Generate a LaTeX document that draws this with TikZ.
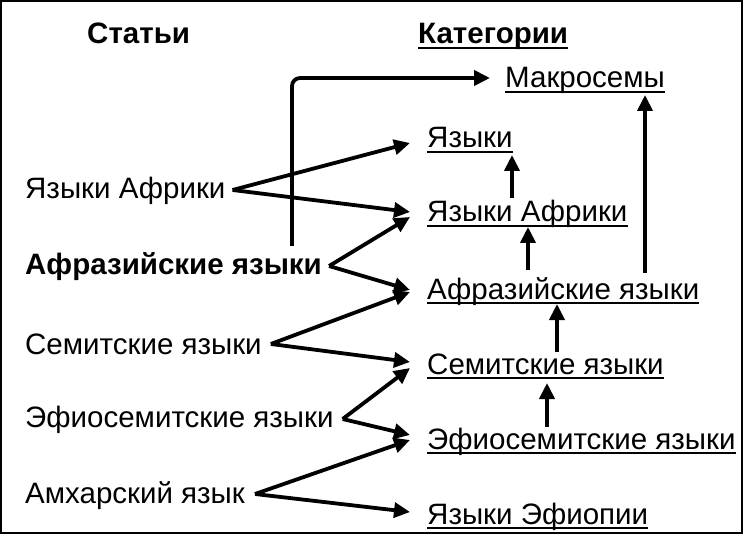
\documentclass[tikz,border=0pt]{standalone}
\usepackage{fontspec}
\setmainfont{Liberation Sans}
\usetikzlibrary{arrows.meta,calc}
\begin{document}
\begin{tikzpicture}[x=1pt,y=-1pt,
  txt/.style={anchor=base west, inner sep=0pt, font=\fontsize{29.5}{32}\selectfont},
  hdr/.style={txt, font=\fontsize{29.5}{32}\selectfont\bfseries},
  arr/.style={line width=3.8pt, -{Triangle[length=16pt,width=15pt]}},
  ul/.style={line width=2pt},
  frame/.style={line width=2pt}]
\useasboundingbox (0,0) rectangle (743,534);
\draw[frame] (1,1) rectangle (742,533);

% column headings
\node[hdr] (art) at (87,44) {Статьи};
\node[hdr] (kat) at (418,44) {Категории};

% articles
\node[txt] (L1) at (25,199) {Языки Африки};
\node[hdr] (L2) at (25,275) {Афразийские языки};
\node[txt] (L3) at (25,354) {Семитские языки};
\node[txt] (L4) at (25,427) {Эфиосемитские языки};
\node[txt] (L5) at (25,503) {Амхарский язык};

% categories
\node[txt] (M)  at (505,88)  {Макросемы};
\node[txt] (R1) at (427,148) {Языки};
\node[txt] (R2) at (427,222) {Языки Африки};
\node[txt] (R3) at (427,299) {Афразийские языки};
\node[txt] (R4) at (427,374) {Семитские языки};
\node[txt] (R5) at (427,449) {Эфиосемитские языки};
\node[txt] (R6) at (427,524) {Языки Эфиопии};

% underlines of category names
\foreach \n in {kat,M,R1,R2,R3,R4,R5,R6}
  \draw[ul] ($(\n.base west)+(0,4)$) -- ($(\n.base east)+(0,4)$);

% article -> category links
\draw[arr] ($(L1.base east)+(7,-9)$) -- ($(R1.base west)+(-17,-5)$);
\draw[arr] ($(L1.base east)+(7,-9)$) -- ($(R2.base west)+(-17,-10)$);
\draw[arr] ($(L2.base east)+(7,-9)$) -- ($(R2.base west)+(-17,-5)$);
\draw[arr] ($(L2.base east)+(7,-9)$) -- ($(R3.base west)+(-17,-9)$);
\draw[arr] ($(L3.base east)+(9,-10)$) -- ($(R3.base west)+(-17,-7)$);
\draw[arr] ($(L3.base east)+(9,-10)$) -- ($(R4.base west)+(-17,-12)$);
\draw[arr] ($(L4.base east)+(9,-8)$) -- ($(R4.base west)+(-17,-6)$);
\draw[arr] ($(L4.base east)+(9,-8)$) -- ($(R5.base west)+(-17,-14)$);
\draw[arr] ($(L5.base east)+(10,-9)$) -- ($(R5.base west)+(-17,-9)$);
\draw[arr] ($(L5.base east)+(10,-9)$) -- ($(R6.base west)+(-17,-12)$);

% article linked straight to the top category
\draw[arr, rounded corners=8pt] ($(L2.base west)+(267,-29)$) |- ($(M.base west)+(-15,-10)$);

% category hierarchy
\draw[arr] ($(R2.base west)+(85,-24)$)  -- ($(R1.base west)+(85,7)$);
\draw[arr] ($(R3.base west)+(101,-29)$) -- ($(R2.base west)+(101,5)$);
\draw[arr] ($(R4.base west)+(130,-22)$) -- ($(R3.base west)+(130,5)$);
\draw[arr] ($(R5.base west)+(120,-22)$) -- ($(R4.base west)+(120,9)$);
\draw[arr] ($(R3.base west)+(218,-26)$) -- ($(M.base west)+(140,7)$);
\end{tikzpicture}
\end{document}
